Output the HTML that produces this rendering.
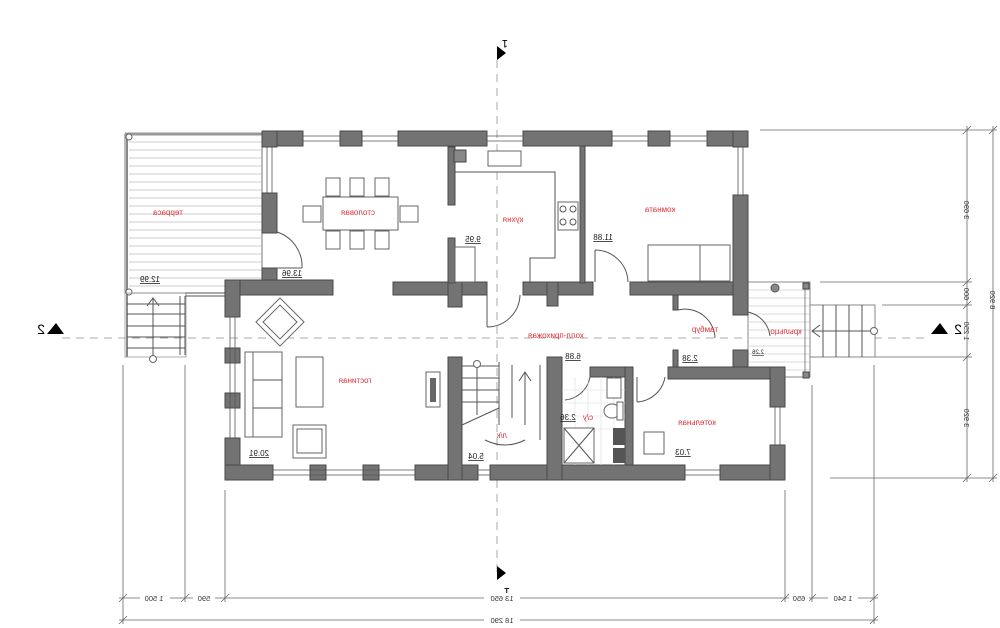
<!DOCTYPE html>
<html><head><meta charset="utf-8"><style>
html,body{margin:0;padding:0;background:#fff;width:1000px;height:628px;overflow:hidden}
svg{display:block}
.w{fill:#737373;stroke:#4a4a4a;stroke-width:1}
.t{font-family:"Liberation Sans",sans-serif;font-size:8px;fill:#e0303a;text-anchor:middle}
.n{font-family:"Liberation Sans",sans-serif;font-size:8px;fill:#222;text-anchor:middle;text-decoration:underline}
.d{font-family:"Liberation Sans",sans-serif;font-size:7.5px;fill:#333;text-anchor:middle}
.l{stroke:#555;stroke-width:1;fill:none}
.f{stroke:#666;stroke-width:1;fill:#fff}
.g{stroke:#999;stroke-width:0.8;fill:none}
</style></head><body>
<svg width="1000" height="628" viewBox="0 0 1000 628" xmlns="http://www.w3.org/2000/svg">
<line x1="497" y1="60" x2="497" y2="575" stroke="#aaa" stroke-dasharray="8,6"/>
<line x1="62" y1="338" x2="930" y2="338" stroke="#aaa" stroke-dasharray="8,6"/>
<rect x="125" y="134" width="137" height="159" fill="#fff" stroke="#777"/>
<g stroke="#bbb" stroke-width="0.8">
<line x1="129" y1="142" x2="262" y2="142"/><line x1="129" y1="150" x2="262" y2="150"/><line x1="129" y1="158" x2="262" y2="158"/><line x1="129" y1="166" x2="262" y2="166"/><line x1="129" y1="174" x2="262" y2="174"/><line x1="129" y1="182" x2="262" y2="182"/><line x1="129" y1="190" x2="262" y2="190"/><line x1="129" y1="198" x2="262" y2="198"/><line x1="129" y1="206" x2="262" y2="206"/><line x1="129" y1="214" x2="262" y2="214"/><line x1="129" y1="222" x2="262" y2="222"/><line x1="129" y1="230" x2="262" y2="230"/><line x1="129" y1="238" x2="262" y2="238"/><line x1="129" y1="246" x2="262" y2="246"/><line x1="129" y1="254" x2="262" y2="254"/><line x1="129" y1="262" x2="262" y2="262"/><line x1="129" y1="270" x2="262" y2="270"/><line x1="129" y1="278" x2="262" y2="278"/><line x1="129" y1="286" x2="262" y2="286"/>
</g>
<line x1="125" y1="134" x2="262" y2="134" stroke="#999" stroke-width="3"/>
<line x1="127" y1="134" x2="127" y2="357" stroke="#888" stroke-width="2"/>
<circle cx="129" cy="137" r="3" class="f"/><circle cx="129" cy="292" r="3" class="f"/>
<rect x="125" y="293" width="61" height="64" class="g" stroke="#888"/>
<line x1="185" y1="293" x2="225" y2="293" class="l"/><line x1="185" y1="296" x2="225" y2="296" class="l"/>
<line x1="180" y1="296" x2="180" y2="355" class="l"/><line x1="185" y1="296" x2="185" y2="355" class="l"/>
<g class="l"><line x1="127" y1="304" x2="185" y2="304"/><line x1="127" y1="314" x2="185" y2="314"/><line x1="127" y1="326" x2="185" y2="326"/><line x1="127" y1="337" x2="185" y2="337"/><line x1="127" y1="348" x2="185" y2="348"/></g>
<line x1="153" y1="298" x2="153" y2="358" class="l"/><polyline points="147,306 153,298 159,306" class="l"/>
<circle cx="153" cy="359" r="3.5" class="f"/>
<rect x="748" y="282" width="62" height="95" fill="#fff" stroke="#888"/>
<g stroke="#ccc" stroke-width="0.8"><line x1="748" y1="290" x2="810" y2="290"/><line x1="748" y1="298" x2="810" y2="298"/><line x1="748" y1="306" x2="810" y2="306"/><line x1="748" y1="314" x2="810" y2="314"/><line x1="748" y1="322" x2="810" y2="322"/><line x1="748" y1="330" x2="810" y2="330"/><line x1="748" y1="338" x2="810" y2="338"/><line x1="748" y1="346" x2="810" y2="346"/><line x1="748" y1="354" x2="810" y2="354"/><line x1="748" y1="362" x2="810" y2="362"/><line x1="748" y1="370" x2="810" y2="370"/></g>
<rect x="805" y="282" width="5" height="95" fill="none" stroke="#888"/>
<circle cx="775" cy="288" r="4" fill="#888" stroke="#555"/>
<rect x="803" y="283" width="6" height="6" fill="#888" stroke="#444"/><rect x="803" y="372" width="6" height="6" fill="#888" stroke="#444"/>
<rect x="810" y="305" width="65" height="52" fill="#fff" stroke="#888"/>
<g class="l"><line x1="823" y1="305" x2="823" y2="357"/><line x1="836" y1="305" x2="836" y2="357"/><line x1="849" y1="305" x2="849" y2="357"/><line x1="862" y1="305" x2="862" y2="357"/></g>
<line x1="812" y1="331" x2="873" y2="331" class="l"/><polyline points="820,325 812,331 820,337" class="l"/>
<circle cx="874" cy="331" r="3.5" class="f"/>
<g class="w">
<rect x="262" y="131" width="41" height="15"/>
<rect x="340" y="131" width="22" height="15"/>
<rect x="398" y="131" width="89" height="15"/>
<rect x="523" y="131" width="89" height="15"/>
<rect x="648" y="131" width="22" height="15"/>
<rect x="707" y="131" width="41" height="15"/>
<rect x="262" y="131" width="15" height="16"/>
<rect x="262" y="193" width="15" height="40"/>
<rect x="262" y="268" width="15" height="20"/>
<rect x="225" y="280" width="108" height="15"/>
<rect x="225" y="280" width="15" height="37"/>
<rect x="225" y="348" width="15" height="15"/>
<rect x="225" y="393" width="15" height="15"/>
<rect x="225" y="438" width="15" height="42"/>
<rect x="225" y="465" width="48" height="15"/>
<rect x="310" y="465" width="16" height="15"/>
<rect x="363" y="465" width="16" height="15"/>
<rect x="415" y="465" width="63" height="15"/>
<rect x="490" y="465" width="195" height="15"/>
<rect x="720" y="465" width="65" height="15"/>
<rect x="393" y="282" width="94" height="13"/>
<rect x="448" y="282" width="14" height="25"/>
<rect x="523" y="282" width="70" height="13"/>
<rect x="547" y="282" width="11" height="24"/>
<rect x="630" y="282" width="118" height="13"/>
<rect x="673" y="295" width="5" height="15"/>
<rect x="733" y="131" width="15" height="16"/>
<rect x="733" y="195" width="15" height="120"/>
<rect x="448" y="357" width="14" height="123"/>
<rect x="547" y="357" width="15" height="123"/>
<rect x="590" y="367" width="43" height="10"/>
<rect x="625" y="367" width="8" height="98"/>
<rect x="673" y="350" width="5" height="18"/>
<rect x="733" y="350" width="15" height="18"/>
<rect x="668" y="367" width="117" height="12"/>
<rect x="770" y="367" width="15" height="40"/>
<rect x="770" y="445" width="15" height="35"/>
<rect x="448" y="147" width="7" height="58"/>
<rect x="448" y="238" width="7" height="45"/>
<rect x="580" y="146" width="5" height="137"/>
</g>
<g stroke="#555" stroke-width="0.8">
<line x1="303" y1="136" x2="340" y2="136"/><line x1="303" y1="141" x2="340" y2="141"/>
<line x1="362" y1="136" x2="398" y2="136"/><line x1="362" y1="141" x2="398" y2="141"/>
<line x1="487" y1="136" x2="523" y2="136"/><line x1="487" y1="141" x2="523" y2="141"/>
<line x1="612" y1="136" x2="648" y2="136"/><line x1="612" y1="141" x2="648" y2="141"/>
<line x1="670" y1="136" x2="707" y2="136"/><line x1="670" y1="141" x2="707" y2="141"/>
<line x1="267" y1="147" x2="267" y2="193"/><line x1="272" y1="147" x2="272" y2="193"/>
<line x1="738" y1="147" x2="738" y2="195"/><line x1="743" y1="147" x2="743" y2="195"/>
<line x1="230" y1="317" x2="230" y2="438"/><line x1="235" y1="317" x2="235" y2="438"/>
<line x1="273" y1="470" x2="415" y2="470"/><line x1="273" y1="475" x2="415" y2="475"/>
<line x1="478" y1="470" x2="490" y2="470"/><line x1="478" y1="475" x2="490" y2="475"/>
<line x1="685" y1="470" x2="720" y2="470"/><line x1="685" y1="475" x2="720" y2="475"/>
<line x1="775" y1="407" x2="775" y2="445"/><line x1="780" y1="407" x2="780" y2="445"/>
</g>
<g class="l" stroke-width="0.8">
<path d="M277 232 A36 36 0 0 1 302 268"/><line x1="277" y1="268" x2="302" y2="268"/>
<line x1="487" y1="295" x2="487" y2="327"/><path d="M487 327 A33 33 0 0 0 520 295"/>
<line x1="595" y1="250" x2="595" y2="282"/><path d="M595 250 A33 33 0 0 1 628 282"/>
<path d="M678 310 A30 30 0 0 1 715 338"/>
<line x1="637" y1="402" x2="637" y2="377"/><path d="M637 402 A30 30 0 0 0 665 377"/>
<path d="M748 312 A28 28 0 0 1 770 336"/>
<path d="M565 400 A28 28 0 0 0 590 377"/>
</g>
<rect x="323" y="197" width="75" height="33" class="f"/>
<g class="f"><rect x="326" y="178" width="14" height="18"/><rect x="350" y="178" width="14" height="18"/><rect x="375" y="178" width="14" height="18"/>
<rect x="326" y="231" width="14" height="18"/><rect x="350" y="231" width="14" height="18"/><rect x="375" y="231" width="14" height="18"/>
<rect x="303" y="206" width="18" height="16"/><rect x="400" y="206" width="18" height="16"/></g>
<polyline points="455,172 555,172 555,258 530,258 530,283" class="l" stroke-width="0.8"/>
<rect x="454" y="150" width="12" height="12" fill="#888" stroke="#444"/>
<rect x="488" y="151" width="33" height="15" class="f"/>
<rect x="558" y="202" width="20" height="28" class="f"/>
<circle cx="563" cy="209" r="3" class="l"/><circle cx="573" cy="209" r="3" class="l"/><circle cx="563" cy="222" r="3" class="l"/><circle cx="573" cy="222" r="3" class="l"/>
<rect x="455" y="247" width="20" height="35" class="f"/>
<rect x="648" y="245" width="82" height="36" class="f"/>
<rect x="700" y="245" width="30" height="36" class="f"/>
<rect x="245" y="352" width="37" height="85" class="f"/><rect x="245" y="352" width="8" height="85" class="f"/>
<line x1="253" y1="380" x2="282" y2="380" class="l"/><line x1="253" y1="408" x2="282" y2="408" class="l"/>
<rect x="296" y="357" width="27" height="50" class="f"/>
<rect x="293" y="425" width="33" height="33" class="f"/><rect x="297" y="429" width="25" height="24" class="f"/>
<g transform="translate(280,322) rotate(45)"><rect x="-17" y="-17" width="34" height="34" class="f"/><rect x="-12" y="-12" width="24" height="24" class="f"/></g>
<rect x="426" y="372" width="14" height="35" class="f"/><rect x="430" y="378" width="6" height="24" fill="#666"/>
<g class="l" stroke-width="0.8"><line x1="462" y1="366" x2="499" y2="366"/><line x1="462" y1="378" x2="499" y2="378"/><line x1="462" y1="390" x2="499" y2="390"/><line x1="462" y1="402" x2="499" y2="402"/><line x1="462" y1="425" x2="499" y2="408"/><line x1="499" y1="362" x2="499" y2="425"/>
<line x1="477" y1="362" x2="477" y2="415"/><line x1="540" y1="365" x2="540" y2="440"/><line x1="512" y1="365" x2="512" y2="418"/>
<line x1="525" y1="372" x2="525" y2="425"/><polyline points="519,381 525,372 531,381"/>
<path d="M485 440 Q505 450 525 440"/></g>
<circle cx="477" cy="364" r="3.5" class="f"/>
<g stroke="#ddd" stroke-width="0.6"><line x1="562" y1="390" x2="625" y2="390"/><line x1="562" y1="403" x2="625" y2="403"/><line x1="562" y1="416" x2="625" y2="416"/><line x1="562" y1="429" x2="625" y2="429"/><line x1="575" y1="377" x2="575" y2="465"/><line x1="588" y1="377" x2="588" y2="465"/><line x1="601" y1="377" x2="601" y2="465"/><line x1="614" y1="377" x2="614" y2="465"/></g>
<rect x="607" y="378" width="14" height="20" class="f"/>
<ellipse cx="612" cy="411" rx="8" ry="7" class="f"/><rect x="617" y="402" width="6" height="18" class="f"/>
<rect x="564" y="428" width="30" height="35" class="f"/><line x1="564" y1="428" x2="594" y2="463" class="l"/><line x1="594" y1="428" x2="564" y2="463" class="l"/>
<rect x="613" y="428" width="12" height="17" fill="#555"/><rect x="613" y="448" width="12" height="15" fill="#555"/>
<rect x="644" y="432" width="20" height="22" class="f"/>
<g>
<text class="t" transform="translate(168,215) scale(-1,1)">терраса</text>
<text class="t" transform="translate(358,215) scale(-1,1)">столовая</text>
<text class="t" transform="translate(513,222) scale(-1,1)">кухня</text>
<text class="t" transform="translate(660,212) scale(-1,1)">комната</text>
<text class="t" transform="translate(556,338) scale(-1,1)">холл-прихожая</text>
<text class="t" transform="translate(355,383) scale(-1,1)">гостиная</text>
<text class="t" transform="translate(705,332) scale(-1,1)">тамбур</text>
<text class="t" transform="translate(786,334) scale(-1,1)">крыльцо</text>
<text class="t" transform="translate(697,425) scale(-1,1)">котельная</text>
<text class="t" transform="translate(588,420) scale(-1,1)">с/у</text>
<text class="t" transform="translate(502,438) scale(-1,1)">л/к</text>
<text class="n" transform="translate(292,276) scale(-1,1)">13.96</text>
<text class="n" transform="translate(473,242) scale(-1,1)">9.95</text>
<text class="n" transform="translate(603,240) scale(-1,1)">11.88</text>
<text class="n" transform="translate(150,282) scale(-1,1)">12.99</text>
<text class="n" transform="translate(259,456) scale(-1,1)">20.91</text>
<text class="n" transform="translate(476,459) scale(-1,1)">5.04</text>
<text class="n" transform="translate(573,359) scale(-1,1)">6.88</text>
<text class="n" transform="translate(690,361) scale(-1,1)">2.38</text>
<text class="n" transform="translate(683,455) scale(-1,1)">7.03</text>
<text class="n" transform="translate(568,420) scale(-1,1)">2.36</text>
<text class="n" transform="translate(758,354) scale(-1,1)" style="font-size:6px">2.26</text>
</g>
<polygon points="497,46 506,53 497,60" fill="#000"/>
<text transform="translate(508,40) rotate(180)" font-family="Liberation Sans" font-size="11" fill="#000">1</text>
<polygon points="497,566 506,573 497,580" fill="#000"/>
<text transform="translate(510,588) rotate(180)" font-family="Liberation Sans" font-size="11" fill="#000">1</text>
<polygon points="47,334 56,323 64,334" fill="#000"/>
<text transform="translate(45,334) scale(-1,1)" font-family="Liberation Sans" font-size="14" fill="#000">2</text>
<polygon points="931,334 940,323 948,334" fill="#000"/>
<text transform="translate(962,334) scale(-1,1)" font-family="Liberation Sans" font-size="14" fill="#000">2</text>
<g stroke="#666" stroke-width="0.8">
<line x1="760" y1="130" x2="997" y2="130"/><line x1="820" y1="282" x2="972" y2="282"/>
<line x1="882" y1="305" x2="972" y2="305"/><line x1="875" y1="357" x2="972" y2="357"/>
<line x1="830" y1="478" x2="997" y2="478"/>
<line x1="967" y1="126" x2="967" y2="482"/><line x1="993" y1="126" x2="993" y2="482"/>
<line x1="963" y1="134" x2="971" y2="126"/><line x1="963" y1="286" x2="971" y2="278"/><line x1="963" y1="309" x2="971" y2="301"/><line x1="963" y1="361" x2="971" y2="353"/><line x1="963" y1="482" x2="971" y2="474"/>
<line x1="989" y1="134" x2="997" y2="126"/><line x1="989" y1="482" x2="997" y2="474"/>
</g>
<g class="d">
<text transform="translate(964,210) rotate(90) scale(-1,1)">3 690</text>
<text transform="translate(964,294) rotate(90) scale(-1,1)">600</text>
<text transform="translate(964,331) rotate(90) scale(-1,1)">1 250</text>
<text transform="translate(964,418) rotate(90) scale(-1,1)">3 920</text>
<text transform="translate(990,300) rotate(90) scale(-1,1)">8 920</text>
</g>
<g stroke="#666" stroke-width="0.8">
<line x1="123" y1="365" x2="123" y2="624"/><line x1="185" y1="365" x2="185" y2="602"/>
<line x1="225" y1="490" x2="225" y2="602"/><line x1="785" y1="490" x2="785" y2="602"/>
<line x1="812" y1="385" x2="812" y2="602"/><line x1="874" y1="365" x2="874" y2="624"/>
<line x1="119" y1="598" x2="878" y2="598"/><line x1="119" y1="620" x2="878" y2="620"/>
<line x1="119" y1="602" x2="127" y2="594"/><line x1="181" y1="602" x2="189" y2="594"/><line x1="221" y1="602" x2="229" y2="594"/><line x1="781" y1="602" x2="789" y2="594"/><line x1="808" y1="602" x2="816" y2="594"/><line x1="870" y1="602" x2="878" y2="594"/>
<line x1="119" y1="624" x2="127" y2="616"/><line x1="870" y1="624" x2="878" y2="616"/>
</g>
<g class="d">
<rect x="140" y="593" width="30" height="9" fill="#fff"/><text transform="translate(154,601) scale(-1,1)">1 500</text>
<rect x="193" y="593" width="22" height="9" fill="#fff"/><text transform="translate(204,601) scale(-1,1)">590</text>
<rect x="484" y="593" width="36" height="9" fill="#fff"/><text transform="translate(502,601) scale(-1,1)">13 650</text>
<rect x="789" y="593" width="20" height="9" fill="#fff"/><text transform="translate(799,601) scale(-1,1)">650</text>
<rect x="828" y="593" width="30" height="9" fill="#fff"/><text transform="translate(843,601) scale(-1,1)">1 540</text>
<rect x="484" y="615" width="36" height="9" fill="#fff"/><text transform="translate(502,623) scale(-1,1)">18 290</text>
</g>
</svg>
</body></html>
